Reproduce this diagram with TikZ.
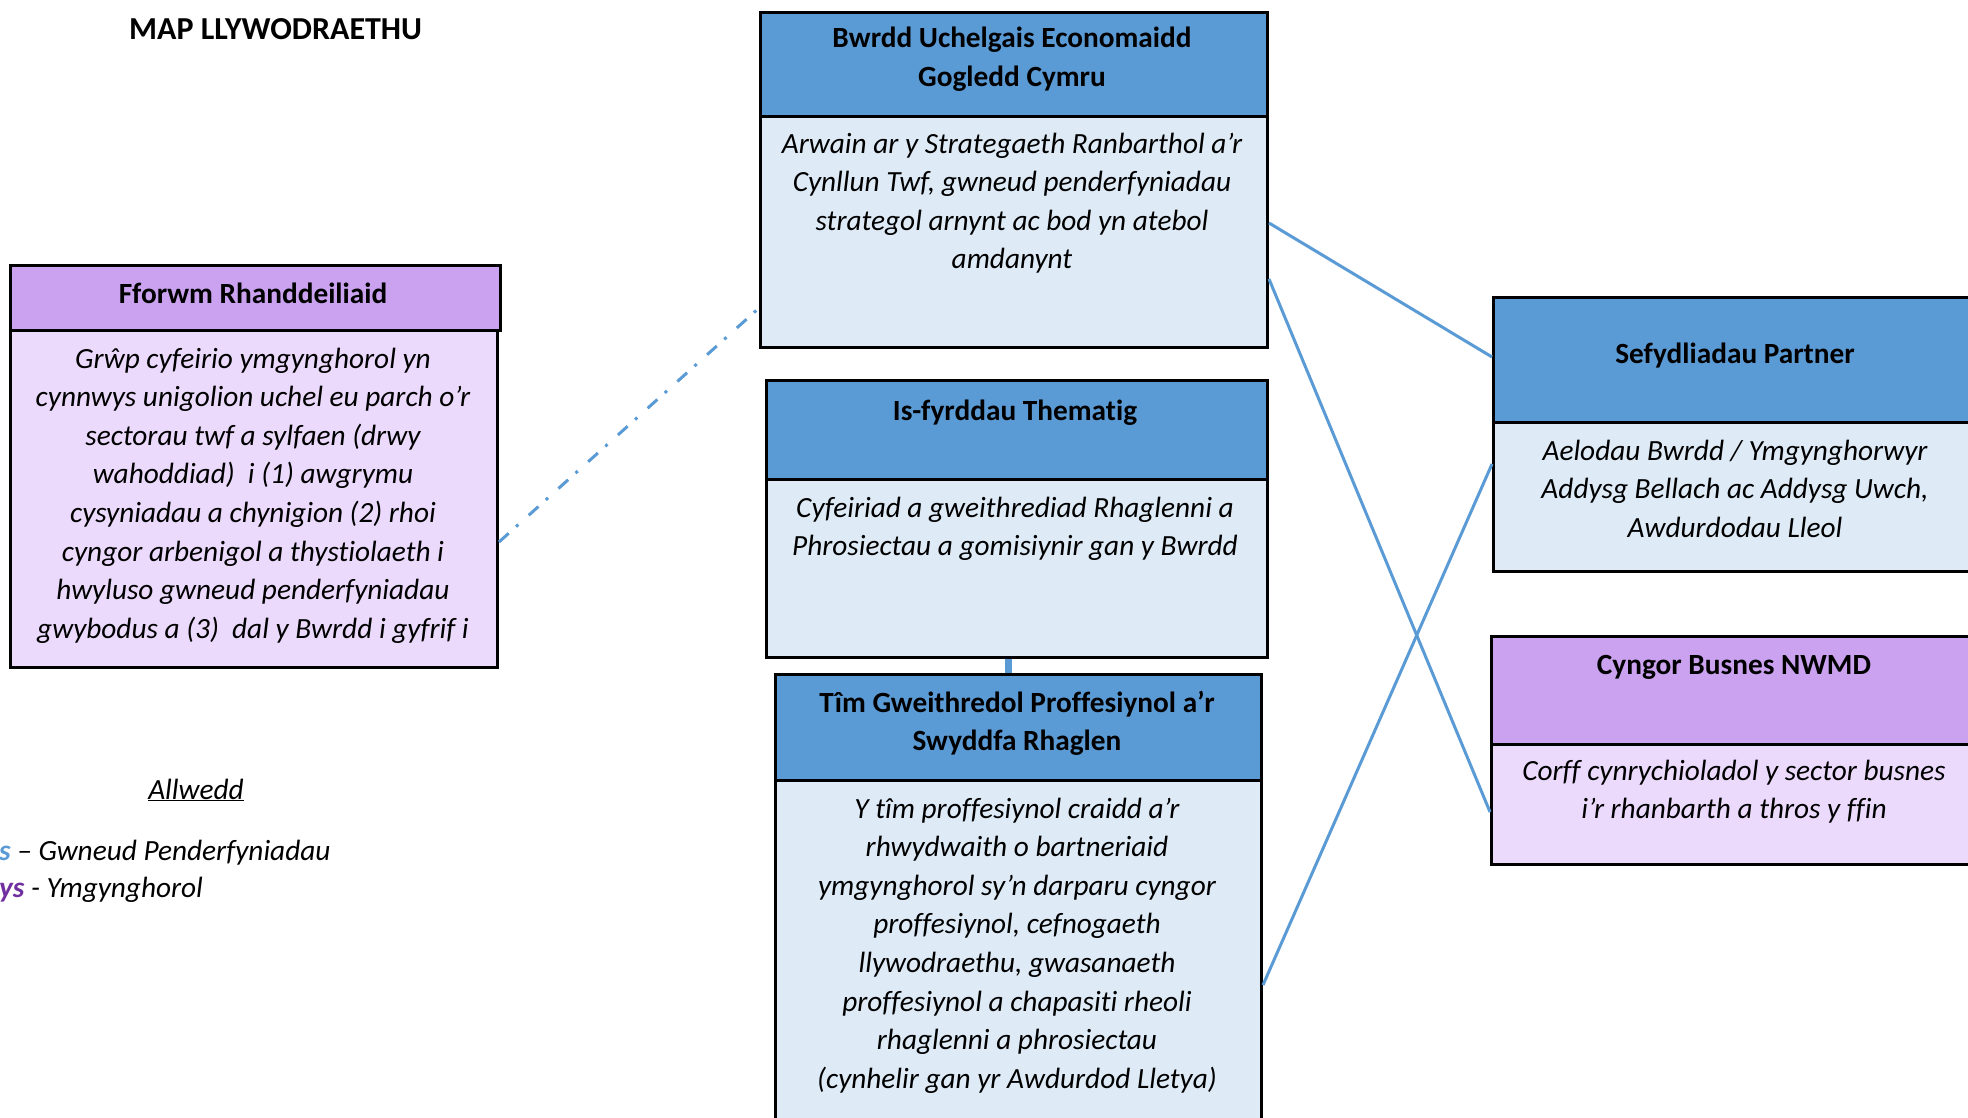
\documentclass[tikz,border=0pt]{standalone}
\usepackage{fontspec}
\setmainfont[Ligatures={NoCommon}]{Carlito}
\definecolor{hblue}{HTML}{5B9BD5}
\definecolor{lblue}{HTML}{DEEBF7}
\definecolor{hpurp}{HTML}{CBA2F0}
\definecolor{lpurp}{HTML}{EBDAFC}
\definecolor{lnblue}{HTML}{5B9BD5}
\definecolor{legpurp}{HTML}{7030A0}
\begin{document}
\begin{tikzpicture}[x=1pt,y=-1pt,
 part/.style={draw=black, line width=3pt, rectangle, inner sep=0pt, anchor=north west},
 hb/.style={part, fill=hblue}, bb/.style={part, fill=lblue},
 hp/.style={part, fill=hpurp}, bp/.style={part, fill=lpurp},
 ht/.style={anchor=base, align=center, inner sep=0pt, font=\fontsize{29.3}{38.6}\selectfont\bfseries},
 bt/.style={anchor=base, align=center, inner sep=0pt, font=\fontsize{29.3}{38.6}\selectfont\itshape},
 lt/.style={anchor=base west, inner sep=0pt, font=\fontsize{29.3}{36}\selectfont\itshape},
 conn/.style={draw=lnblue, line width=3pt}]
\path[use as bounding box] (0,0) rectangle (1968,1118);
\clip (0,0) rectangle (1968,1118);
\fill[white] (0,0) rectangle (1968,1118);

% boxes
\node[hb, minimum width=507pt, minimum height=104pt] (bwH) at (759,11) {};
\node[bb, minimum width=507pt, minimum height=231pt] (bwB) at (759,115) {};
\node[hb, minimum width=501pt, minimum height=99pt] (isH) at (765,379) {};
\node[bb, minimum width=501pt, minimum height=178pt] (isB) at (765,478) {};
\node[hb, minimum width=486pt, minimum height=106pt] (tmH) at (774,673) {};
\node[bb, minimum width=486pt, minimum height=400pt] (tmB) at (774,779) {};
\node[hp, minimum width=490pt, minimum height=65pt] (ffH) at (9,264) {};
\node[bp, minimum width=487pt, minimum height=337pt] (ffB) at (9,329) {};
\node[hb, minimum width=486pt, minimum height=125pt] (sfH) at (1492,296) {};
\node[bb, minimum width=486pt, minimum height=149pt] (sfB) at (1492,421) {};
\node[hp, minimum width=488pt, minimum height=108pt] (cbH) at (1490,635) {};
\node[bp, minimum width=488pt, minimum height=120pt] (cbB) at (1490,743) {};

% texts (anchored at the baseline of their last line)
\node[ht] (bwHt) at (1012,86.6) {Bwrdd Uchelgais Economaidd\\Gogledd Cymru};
\node[bt] (bwBt) at (1012,268.8) {Arwain ar y Strategaeth Ranbarthol a’r\\Cynllun Twf, gwneud penderfyniadau\\strategol arnynt ac bod yn atebol\\amdanynt};
\node[ht] (isHt) at (1015,420) {Is-fyrddau Thematig};
\node[bt] (isBt) at (1015,555.6) {Cyfeiriad a gweithrediad Rhaglenni a\\Phrosiectau a gomisiynir gan y Bwrdd};
\node[ht] (tmHt) at (1017,750.6) {Tîm Gweithredol Proffesiynol a’r\\Swyddfa Rhaglen};
\node[bt] (tmBt) at (1017,1088.2) {Y tîm proffesiynol craidd a’r\\rhwydwaith o bartneriaid\\ymgynghorol sy’n darparu cyngor\\proffesiynol, cefnogaeth\\llywodraethu, gwasanaeth\\proffesiynol a chapasiti rheoli\\rhaglenni a phrosiectau\\(cynhelir gan yr Awdurdod Lletya)};
\node[ht] (ffHt) at (253,303) {Fforwm Rhanddeiliaid};
\node[bt] (ffBt) at (253,638.2) {Grŵp cyfeirio ymgynghorol yn\\cynnwys unigolion uchel eu parch o’r\\sectorau twf a sylfaen (drwy\\wahoddiad)~ i (1) awgrymu\\cysyniadau a chynigion (2) rhoi\\cyngor arbenigol a thystiolaeth i\\hwyluso gwneud penderfyniadau\\gwybodus a (3)~ dal y Bwrdd i gyfrif i};
\node[ht] (sfHt) at (1735,363) {Sefydliadau Partner};
\node[bt] (sfBt) at (1735,537.2) {Aelodau Bwrdd / Ymgynghorwyr\\Addysg Bellach ac Addysg Uwch,\\Awdurdodau Lleol};
\node[ht] (cbHt) at (1734,674) {Cyngor Busnes NWMD};
\node[bt] (cbBt) at (1734,818.6) {Corff cynrychioladol y sector busnes\\i’r rhanbarth a thros y ffin};

% title and legend
\node[anchor=base west, inner sep=0pt, font=\fontsize{32}{38}\selectfont\bfseries] (title) at (129,40) {MAP LLYWODRAETHU};
\node[anchor=base, inner sep=0pt, font=\fontsize{29.3}{36}\selectfont\itshape] (key) at (196,799) {\underline{Allwedd}};
\node[lt] (k1) at (-1,860) {\textcolor{lnblue}{\bfseries s} – Gwneud Penderfyniadau};
\node[lt] (k2) at (-1,897) {\textcolor{legpurp}{\bfseries ys} - Ymgynghorol};

% connectors
\draw[conn, dash pattern=on 13pt off 10pt on 3pt off 14pt] (ffB.east |- 0,542) -- (bwB.west |- 0,308);
\draw[conn] (bwB.east |- 0,223) -- (sfH.west |- 0,357);
\draw[conn] (bwB.east |- 0,279) -- (cbB.west |- 0,812);
\draw[conn] (tmB.east |- 0,985) -- (sfB.west |- 0,464);
\draw[conn, line width=7pt] (isB.south -| 1008,0) -- (tmH.north -| 1008,0);
\end{tikzpicture}
\end{document}
